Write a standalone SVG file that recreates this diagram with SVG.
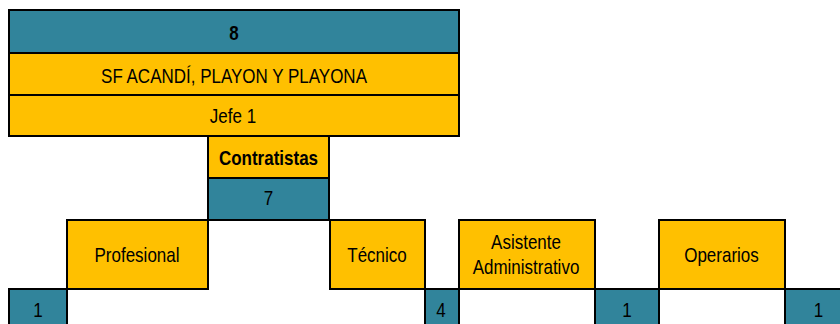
<svg xmlns="http://www.w3.org/2000/svg" width="840" height="324" viewBox="0 0 840 324">
<style>
.t{fill:#31849B;stroke:#000;stroke-width:2}
.y{fill:#FFC000;stroke:#000;stroke-width:2}
text{font-family:"Liberation Sans",Arial,sans-serif;font-size:20px;fill:#000;text-anchor:middle}
.b{font-weight:bold}
</style>
<rect width="840" height="324" fill="#fff"/>
<g id="head">
<rect class="t" x="9" y="10" width="450" height="43"/>
<text class="b" transform="matrix(0.85 0 0 1 234 39.5)">8</text>
<rect class="y" x="9" y="53" width="450" height="42"/>
<text transform="matrix(0.85 0 0 1 234 82.5)">SF ACANDÍ, PLAYON Y PLAYONA</text>
<rect class="y" x="9" y="95" width="450" height="41"/>
<text transform="matrix(0.85 0 0 1 233 122.5)">Jefe 1</text>
</g>
<g id="contratistas">
<rect class="y" x="208" y="136" width="121" height="42"/>
<text class="b" transform="matrix(0.85 0 0 1 268.5 165)">Contratistas</text>
<rect class="t" x="208" y="178" width="121" height="42"/>
<text transform="matrix(0.85 0 0 1 268.5 205)">7</text>
</g>
<g id="profesional">
<rect class="y" x="67" y="220" width="141" height="69"/>
<text transform="matrix(0.85 0 0 1 137 261.7)">Profesional</text>
<rect class="t" x="9" y="289" width="58" height="42"/>
<text transform="matrix(0.85 0 0 1 38 317)">1</text>
</g>
<g id="tecnico">
<rect class="y" x="330" y="220" width="95" height="69"/>
<text transform="matrix(0.85 0 0 1 377 261.7)">Técnico</text>
<rect class="t" x="425" y="289" width="34" height="42"/>
<text transform="matrix(0.85 0 0 1 441 317)">4</text>
</g>
<g id="asistente">
<rect class="y" x="459" y="220" width="136" height="69"/>
<text transform="matrix(0.85 0 0 1 526 248.5)">Asistente</text>
<text transform="matrix(0.85 0 0 1 526 273.5)">Administrativo</text>
<rect class="t" x="595" y="289" width="64" height="42"/>
<text transform="matrix(0.85 0 0 1 627 317)">1</text>
</g>
<g id="operarios">
<rect class="y" x="659" y="220" width="126" height="69"/>
<text transform="matrix(0.85 0 0 1 721.5 261.7)">Operarios</text>
<rect class="t" x="785" y="289" width="66" height="42"/>
<text transform="matrix(0.85 0 0 1 818.5 317)">1</text>
</g>
</svg>
